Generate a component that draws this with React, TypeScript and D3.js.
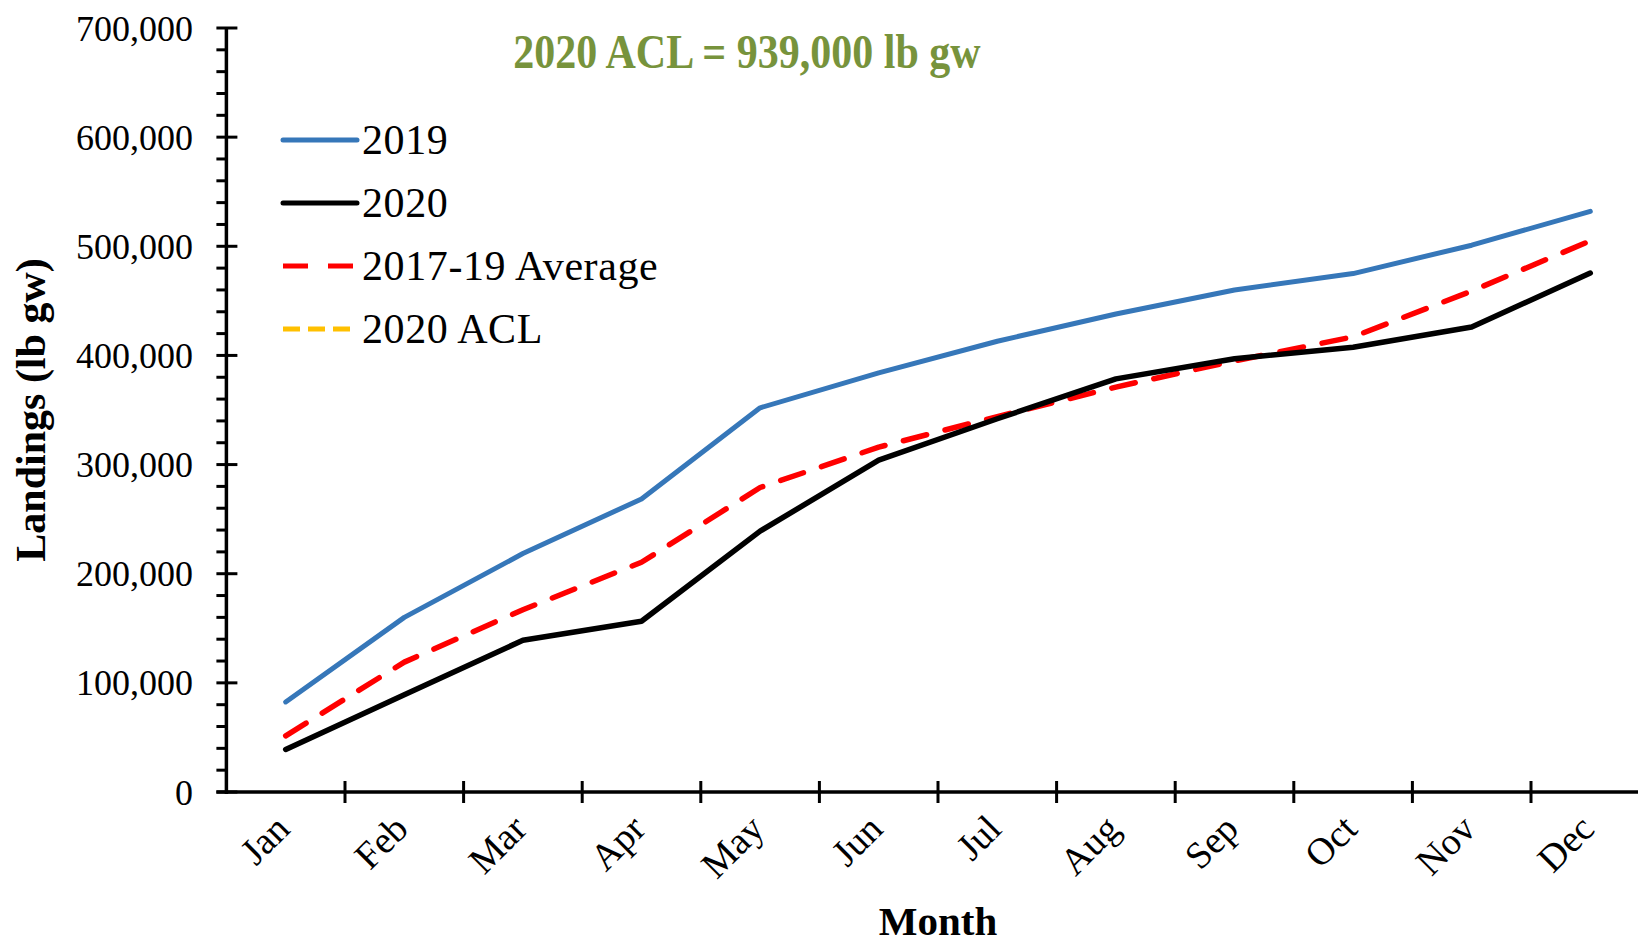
import React from "react";
import * as d3 from "d3";

const months = ["Jan", "Feb", "Mar", "Apr", "May", "Jun", "Jul", "Aug", "Sep", "Oct", "Nov", "Dec"];
const landings2019 = [82500, 160000, 218500, 268500, 352000, 384000, 413000, 438000, 460000, 475000, 501000, 532000];
const landings2020 = [39000, 89000, 139000, 156500, 239000, 304000, 342000, 378500, 397000, 407500, 426000, 475500];
const average2017_19 = [51500, 119000, 167000, 210500, 279000, 316000, 344000, 371000, 395000, 417000, 459000, 505000];
const yTicks = [0, 100000, 200000, 300000, 400000, 500000, 600000, 700000];
const legendLabels = ["2019", "2020", "2017-19 Average", "2020 ACL"];
const titleText = "2020 ACL = 939,000 lb gw";

const W = 1638;
const H = 941;
const X0 = 226.4;
const X1 = 1649.6;
const Y0 = 792;
const Y1 = 28;

const FONT = "'Liberation Serif', 'Times New Roman', serif";

export default function App() {
  const x = d3.scaleBand<string>().domain(months).range([X0, X1]).padding(0);
  const y = d3.scaleLinear().domain([0, 700000]).range([Y0, Y1]);
  const cx = (m: string) => (x(m) as number) + x.bandwidth() / 2;
  const line = d3
    .line<number>()
    .x((_, i) => cx(months[i]))
    .y((v) => y(v));

  const minorTicks = d3.range(0, 700001, 20000).filter((v) => v % 100000 !== 0);

  const series = [
    { data: landings2019, color: "#3677B9", width: 5, dash: undefined as string | undefined },
    { data: average2017_19, color: "#FF0000", width: 5.5, dash: "24 19" },
    { data: landings2020, color: "#000000", width: 5.5, dash: undefined as string | undefined },
  ];

  const legend = [
    { label: legendLabels[0], color: "#3677B9", dash: undefined as string | undefined, cap: "round" },
    { label: legendLabels[1], color: "#000000", dash: undefined as string | undefined, cap: "round" },
    { label: legendLabels[2], color: "#FF0000", dash: "25 20", cap: "butt" },
    { label: legendLabels[3], color: "#FFC000", dash: "17 8", cap: "butt" },
  ];

  return (
    <svg
      width={W}
      height={H}
      viewBox={`0 0 ${W} ${H}`}
      style={{ position: "absolute", left: 0, top: 0, background: "#fff" }}
      fontFamily={FONT}
    >
      <rect x={0} y={0} width={W} height={H} fill="#fff" />

      {/* title */}
      <text
        x={747}
        y={68}
        textAnchor="middle"
        fontWeight="bold"
        fontSize={42}
        fill="#77933C"
        transform="translate(0,68) scale(1,1.15) translate(0,-68)"
      >
        {titleText}
      </text>

      {/* y axis */}
      <line x1={X0} x2={X0} y1={Y1} y2={Y0 + 2} stroke="#000" strokeWidth={3.5} />
      {minorTicks.map((v) => (
        <line key={"mn" + v} x1={X0 - 10} x2={X0} y1={y(v)} y2={y(v)} stroke="#000" strokeWidth={3} />
      ))}
      {yTicks.map((v) => (
        <g key={"mj" + v}>
          <line x1={X0 - 10} x2={X0 + 11} y1={y(v)} y2={y(v)} stroke="#000" strokeWidth={3} />
          <text x={193} y={y(v)} dy="0.35em" textAnchor="end" fontSize={36} fill="#000">
            {d3.format(",")(v)}
          </text>
        </g>
      ))}

      {/* x axis */}
      <line x1={X0 - 10} x2={W} y1={Y0} y2={Y0} stroke="#000" strokeWidth={3.5} />
      {months.slice(1).map((m) => (
        <line key={"xt" + m} x1={x(m) as number} x2={x(m) as number} y1={Y0 - 11} y2={Y0 + 11} stroke="#000" strokeWidth={3} />
      ))}
      {months.map((m) => (
        <text
          key={"xl" + m}
          transform={`translate(${cx(m) + 6},${831}) rotate(-45)`}
          textAnchor="end"
          fontSize={38}
          fill="#000"
        >
          {m}
        </text>
      ))}

      {/* axis titles */}
      <text
        transform={`translate(45,410) rotate(-90)`}
        textAnchor="middle"
        fontWeight="bold"
        fontSize={42}
        fill="#000"
      >
        Landings (lb gw)
      </text>
      <text x={938} y={935} textAnchor="middle" fontWeight="bold" fontSize={41} fill="#000">
        Month
      </text>

      {/* series */}
      {series.map((s, i) => (
        <path
          key={"s" + i}
          d={line(s.data) as string}
          fill="none"
          stroke={s.color}
          strokeWidth={s.width}
          strokeDasharray={s.dash}
          strokeLinejoin="round"
          strokeLinecap="round"
        />
      ))}

      {/* legend */}
      {legend.map((l, i) => {
        const ly = 140 + i * 63;
        return (
          <g key={"lg" + i}>
            <line
              x1={283}
              x2={357}
              y1={ly}
              y2={ly}
              stroke={l.color}
              strokeWidth={5}
              strokeDasharray={l.dash}
              strokeLinecap={l.cap as any}
            />
            <text x={362} y={ly + 14} fontSize={42} letterSpacing={0.6} fill="#000">
              {l.label}
            </text>
          </g>
        );
      })}
    </svg>
  );
}
